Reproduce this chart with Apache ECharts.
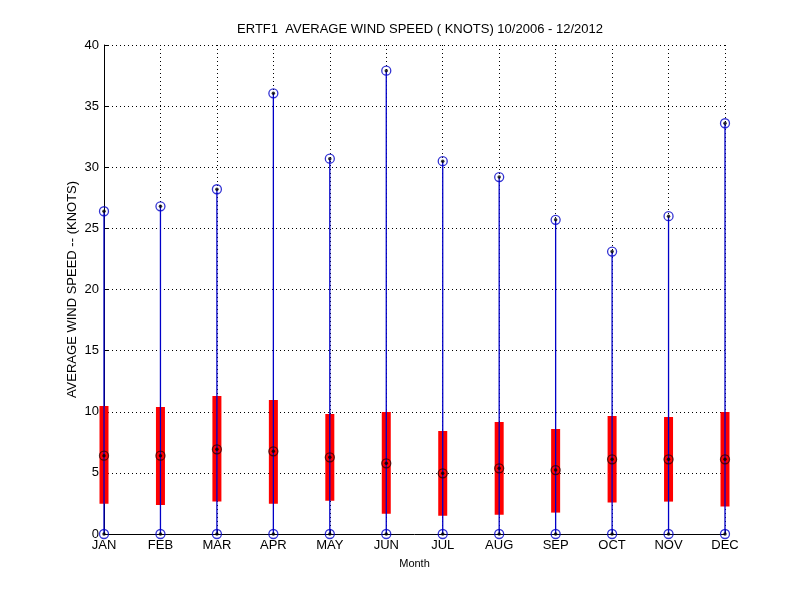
<!DOCTYPE html>
<html>
<head>
<meta charset="utf-8">
<script src="https://cdn.jsdelivr.net/npm/echarts@6/dist/echarts.min.js"></script>
<style>
  html, body { margin: 0; padding: 0; background: #fff; }
  #chart { width: 800px; height: 600px; }
</style>
</head>
<body>
<div id="chart"></div>
<script>
// monthly stats
const months = ['JAN', 'FEB', 'MAR', 'APR', 'MAY', 'JUN', 'JUL', 'AUG', 'SEP', 'OCT', 'NOV', 'DEC'];
const maxVals = [26.4, 26.8, 28.2, 36.05, 30.7, 37.9, 30.5, 29.2, 25.7, 23.1, 26.0, 33.6];
const minVals = [0, 0, 0, 0, 0, 0, 0, 0, 0, 0, 0, 0];
const q1Vals = [2.48, 2.37, 2.65, 2.48, 2.73, 1.66, 1.50, 1.58, 1.75, 2.57, 2.65, 2.24];
const q3Vals = [10.47, 10.39, 11.29, 10.96, 9.82, 9.98, 8.43, 9.16, 8.59, 9.65, 9.57, 9.98];
const medVals = [6.41, 6.41, 6.93, 6.76, 6.27, 5.78, 4.96, 5.37, 5.23, 6.11, 6.11, 6.11];
const yTicks = [0, 5, 10, 15, 20, 25, 30, 35, 40];

const chart = echarts.init(document.getElementById('chart'), null, { renderer: 'canvas' });

const FONT = 'Liberation Sans, Arial, sans-serif';

// whisker + box drawn for each month through the axis scales
const boxData = months.map((m, i) => [i + 1, minVals[i], maxVals[i], q1Vals[i], q3Vals[i]]);
const maxPts = months.map((m, i) => [i + 1, maxVals[i]]);
const minPts = months.map((m, i) => [i + 1, minVals[i]]);
const medPts = months.map((m, i) => [i + 1, medVals[i]]);

function renderBox(params, api) {
  const x = api.value(0);
  const pLo = api.coord([x, api.value(1)]);
  const pHi = api.coord([x, api.value(2)]);
  const pQ1 = api.coord([x, api.value(3)]);
  const pQ3 = api.coord([x, api.value(4)]);
  const w = 9;
  return {
    type: 'group',
    children: [
      {
        type: 'rect',
        shape: { x: pQ3[0] - w / 2, y: pQ3[1], width: w, height: pQ1[1] - pQ3[1] },
        style: { fill: '#ff0000' }
      },
      {
        type: 'line',
        shape: { x1: pLo[0], y1: pLo[1], x2: pHi[0], y2: pHi[1] },
        style: { stroke: '#0000c8', lineWidth: 1.3 }
      }
    ]
  };
}

const option = {
  animation: false,
  backgroundColor: '#fff',
  title: {
    text: 'ERTF1  AVERAGE WIND SPEED ( KNOTS) 10/2006 - 12/2012',
    left: 415,
    textAlign: 'center',
    top: 18,
    textStyle: { fontFamily: FONT, fontSize: 13, fontWeight: 'normal', color: '#000' }
  },
  grid: { left: 104, right: 75, top: 45, bottom: 66 },
  xAxis: {
    type: 'value',
    min: 1,
    max: 12,
    interval: 1,
    name: 'Month',
    nameLocation: 'middle',
    nameGap: 24,
    nameTextStyle: { fontFamily: FONT, fontSize: 11, color: '#000' },
    axisLine: { show: true, lineStyle: { color: '#000', width: 1 } },
    axisTick: { show: true, inside: true, length: 5, lineStyle: { color: '#000' } },
    axisLabel: {
      fontFamily: FONT, fontSize: 13, color: '#000', margin: 5,
      formatter: v => months[v - 1] || ''
    },
    splitLine: { show: true, lineStyle: { color: '#000', type: [1, 3], width: 1 } }
  },
  yAxis: {
    type: 'value',
    min: 0,
    max: 40,
    interval: 5,
    name: 'AVERAGE WIND SPEED -- (KNOTS)',
    nameLocation: 'middle',
    nameGap: 25,
    nameMoveOverlap: false,
    nameTextStyle: { fontFamily: FONT, fontSize: 13, color: '#000' },
    axisLine: { show: true, lineStyle: { color: '#000', width: 1 } },
    axisTick: { show: true, inside: true, length: 5, lineStyle: { color: '#000' } },
    axisLabel: {
      fontFamily: FONT, fontSize: 13, color: '#000', margin: 5,
      formatter: v => (yTicks.indexOf(v) >= 0 ? String(v) : '')
    },
    splitLine: { show: true, lineStyle: { color: '#000', type: [1, 3], width: 1 } }
  },
  series: [
    {
      type: 'custom',
      renderItem: renderBox,
      data: boxData,
      encode: { x: 0, y: [1, 2] },
      z: 2
    },
    // max / min markers: blue ring with black dot
    {
      type: 'scatter',
      data: maxPts.concat(minPts),
      symbol: 'circle',
      symbolSize: 9,
      itemStyle: { color: 'rgba(0,0,0,0)', borderColor: '#0000c8', borderWidth: 1.3 },
      z: 3
    },
    // median marker: dark ring
    {
      type: 'scatter',
      data: medPts,
      symbol: 'circle',
      symbolSize: 9,
      itemStyle: { color: 'rgba(0,0,0,0)', borderColor: '#330000', borderWidth: 1.3 },
      z: 3
    },
    // centre dots
    {
      type: 'scatter',
      data: maxPts.concat(minPts, medPts),
      symbol: 'circle',
      symbolSize: 3.5,
      itemStyle: { color: '#000' },
      z: 4
    }
  ]
};

chart.setOption(option);
</script>
</body>
</html>
